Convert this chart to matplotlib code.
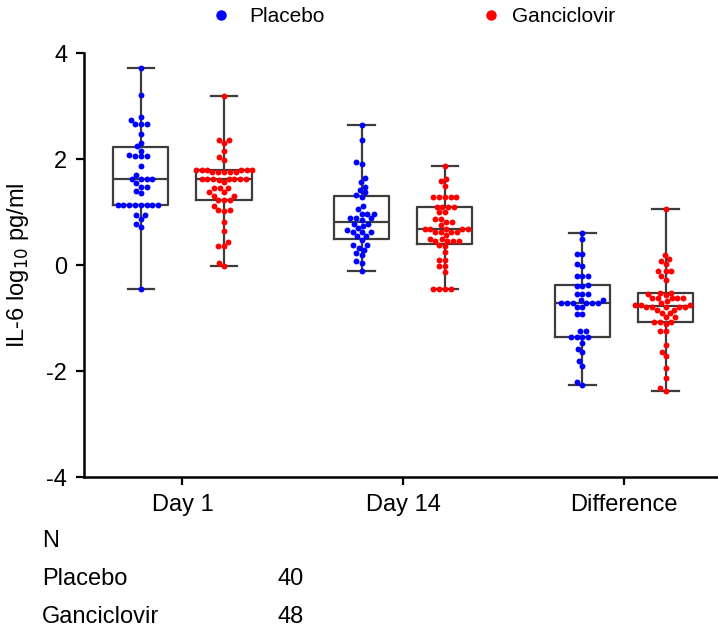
import numpy as np
import matplotlib
matplotlib.use("Agg")
import matplotlib.pyplot as plt
from matplotlib.lines import Line2D

plt.rcParams['font.family'] = ['Liberation Sans', 'DejaVu Sans']
plt.rcParams['axes.unicode_minus'] = False

# data (IL-6 log10 pg/ml)
groups = ["Day 1", "Day 14", "Difference"]
series = ["Placebo", "Ganciclovir"]
colors = ["#0000ff", "#ff0000"]
n_counts = [40, 48]

placebo_day1 = [3.71, 3.21, 2.80, 2.74, 2.66, 2.66, 2.66, 2.47, 2.31, 2.24, 2.16, 2.08,
                2.05, 2.05, 2.05, 1.87, 1.69, 1.62, 1.62, 1.62, 1.62, 1.55, 1.48, 1.48,
                1.40, 1.35, 1.14, 1.14, 1.14, 1.14, 1.14, 1.14, 1.14, 1.14, 0.94, 0.94,
                0.87, 0.77, 0.71, -0.45]
ganciclovir_day1 = [3.18, 2.35, 2.35, 2.30, 2.16, 2.03, 1.98, 1.80, 1.80, 1.80, 1.80, 1.80,
                    1.80, 1.75, 1.75, 1.75, 1.75, 1.75, 1.63, 1.63, 1.63, 1.63, 1.63, 1.63,
                    1.63, 1.61, 1.56, 1.45, 1.45, 1.45, 1.37, 1.37, 1.31, 1.31, 1.23, 1.23,
                    1.23, 1.11, 1.04, 1.04, 1.02, 0.82, 0.65, 0.44, 0.36, 0.36, 0.03, -0.02]
placebo_day14 = [2.64, 2.36, 1.95, 1.91, 1.65, 1.57, 1.48, 1.42, 1.37, 1.32, 1.28, 1.11,
                 1.06, 0.97, 0.97, 0.97, 0.88, 0.88, 0.88, 0.84, 0.78, 0.78, 0.73, 0.70,
                 0.66, 0.62, 0.62, 0.62, 0.55, 0.55, 0.48, 0.37, 0.37, 0.33, 0.28, 0.22,
                 0.18, 0.08, 0.03, -0.12]
ganciclovir_day14 = [1.87, 1.62, 1.58, 1.50, 1.28, 1.28, 1.28, 1.28, 1.28, 1.10, 1.10, 1.10,
                     1.10, 1.00, 1.00, 0.86, 0.86, 0.81, 0.81, 0.75, 0.68, 0.68, 0.68, 0.68,
                     0.68, 0.62, 0.62, 0.62, 0.62, 0.57, 0.50, 0.50, 0.46, 0.46, 0.46, 0.46,
                     0.38, 0.36, 0.24, 0.09, 0.09, -0.02, -0.02, -0.13, -0.45, -0.45, -0.45, -0.45]
placebo_diff = [0.60, 0.49, 0.21, 0.21, 0.01, -0.01, -0.20, -0.20, -0.20, -0.37, -0.39, -0.39,
                -0.54, -0.54, -0.54, -0.66, -0.66, -0.72, -0.72, -0.72, -0.72, -0.72, -0.72,
                -0.80, -0.80, -0.92, -0.92, -1.25, -1.25, -1.35, -1.35, -1.35, -1.35, -1.48,
                -1.58, -1.65, -1.81, -1.90, -2.21, -2.26]
ganciclovir_diff = [1.06, 0.19, 0.11, 0.08, 0.02, -0.12, -0.12, -0.12, -0.21, -0.28, -0.52, -0.52,
                    -0.55, -0.57, -0.63, -0.63, -0.63, -0.63, -0.63, -0.68, -0.72, -0.75, -0.75,
                    -0.75, -0.79, -0.79, -0.79, -0.79, -0.79, -0.84, -0.84, -0.91, -0.91, -0.99,
                    -0.99, -1.07, -1.07, -1.07, -1.11, -1.25, -1.25, -1.50, -1.64, -1.72, -1.95,
                    -2.13, -2.33, -2.38]

data = [[placebo_day1, ganciclovir_day1],
        [placebo_day14, ganciclovir_day14],
        [placebo_diff, ganciclovir_diff]]

W, H = 718, 634
fig = plt.figure(figsize=(W / 100, H / 100), dpi=100)
ax = fig.add_axes([84 / W, 1 - 477 / H, 1 - 84 / W, (477 - 53) / H])
xlim = (-0.446, 2.426)
ylim = (-4, 4)
ax.set_xlim(*xlim)
ax.set_ylim(*ylim)

# pixels per data unit, for the swarm layout
xpx = (W - 84) / (xlim[1] - xlim[0])
ypx = (477 - 53) / (ylim[1] - ylim[0])
dot_d = 5.8


def swarm(vals):
    ys = np.asarray(vals, dtype=float) * ypx
    xs = np.zeros(len(ys))
    placed = []
    for i in np.argsort(ys, kind="stable"):
        y = ys[i]
        near = [(px, py) for px, py in placed if abs(py - y) < dot_d]
        cands = [0.0]
        for px, py in near:
            dx = np.sqrt(dot_d ** 2 - (py - y) ** 2)
            cands += [px + dx, px - dx]
        cands.sort(key=lambda c: (abs(c), c))
        for c in cands:
            if all((c - px) ** 2 + (y - py) ** 2 >= dot_d ** 2 - 1e-6 for px, py in near):
                xs[i] = c
                break
        placed.append((xs[i], y))
    return xs / xpx


offset = 0.1885
box_col = "#3c3c3c"
for gi, pair in enumerate(data):
    for si, vals in enumerate(pair):
        pos = gi + (-offset if si == 0 else offset)
        v = np.asarray(vals)
        q1, med, q3 = np.percentile(v, [25, 50, 75], method="weibull")
        st = dict(med=med, q1=q1, q3=q3, whislo=v.min(), whishi=v.max(), fliers=[])
        ax.bxp([st], positions=[pos], widths=0.25, capwidths=0.12, showfliers=False,
               boxprops=dict(color=box_col, lw=1.6),
               medianprops=dict(color=box_col, lw=1.6),
               whiskerprops=dict(color=box_col, lw=1.6),
               capprops=dict(color=box_col, lw=1.6), manage_ticks=False)
        ax.scatter(pos + swarm(vals), v, s=18, color=colors[si], zorder=3, linewidths=0)

ax.spines['top'].set_visible(False)
ax.spines['right'].set_visible(False)
ax.spines['left'].set_linewidth(1.8)
ax.spines['bottom'].set_linewidth(1.8)
ax.set_xticks(range(len(groups)))
ax.set_xticklabels(groups)
ax.set_yticks([-4, -2, 0, 2, 4])
ax.tick_params(axis='both', direction='out', length=6, width=1.6, labelsize=17, pad=6)

fig.text(18 / W, 1 - 265 / H, "IL-6 log$_{10}$ pg/ml", rotation=90,
         ha='center', va='center', fontsize=17)

# legend at the top
leg_x = [(221, 249), (491, 512)]
for (mx, tx), name, c in zip(leg_x, series, colors):
    fig.add_artist(Line2D([mx / W], [1 - 15 / H], transform=fig.transFigure,
                          marker='o', ms=6.5, color=c, lw=0))
    fig.text(tx / W, 1 - 17 / H, name, ha='left', va='center', fontsize=15)

# N table below the axis
fig.text(42 / W, 1 - 541 / H, "N", ha='left', va='center', fontsize=17)
for row_y, name, n in zip([579, 617], series, n_counts):
    fig.text(42 / W, 1 - row_y / H, name, ha='left', va='center', fontsize=17)
    fig.text(278 / W, 1 - row_y / H, str(n), ha='left', va='center', fontsize=17)

fig.savefig("out.png", dpi=100)
